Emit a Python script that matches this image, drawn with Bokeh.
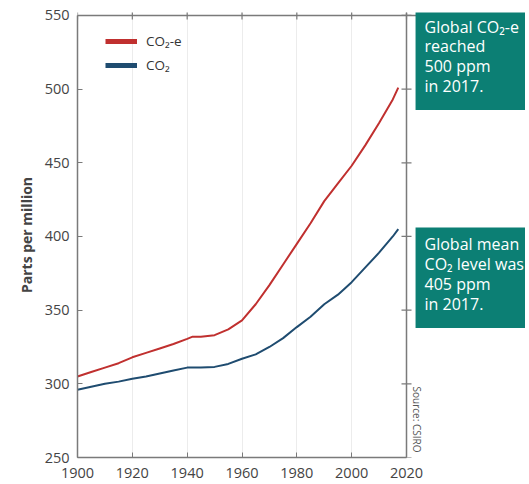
import math
from bokeh.plotting import figure
from bokeh.models import (Label, LinearAxis, Legend, LegendItem, FixedTicker, Range1d, Grid, Span)
from bokeh.embed import file_html
from bokeh.resources import INLINE

years_co2e = [1900, 1905, 1910, 1915, 1920, 1925, 1930, 1935, 1940, 1942, 1945, 1950, 1955,
              1960, 1965, 1970, 1975, 1980, 1985, 1990, 1995, 2000, 2005, 2010, 2015, 2017]
co2e = [305, 308, 311, 314, 318, 321, 324, 327, 330.5, 332, 332, 333, 337,
        343, 354, 367, 381, 395, 409, 424, 436, 448, 462, 477, 493, 501]

years_co2 = [1900, 1905, 1910, 1915, 1920, 1925, 1930, 1935, 1940, 1945, 1950, 1955, 1960,
             1965, 1970, 1975, 1980, 1985, 1990, 1995, 2000, 2005, 2010, 2015, 2017]
co2 = [296, 298, 300, 301.5, 303.5, 305, 307, 309, 311, 311, 311.5, 313.5, 317,
       320, 325, 331, 338.5, 345.5, 354, 360.5, 369, 379, 389, 400, 405]

x_ticks = [1900, 1920, 1940, 1960, 1980, 2000, 2020]
y_ticks = [250, 300, 350, 400, 450, 500, 550]

series_names = ["CO\u2082-e", "CO\u2082"]
box1_text = "Global CO\u2082-e\nreached\n500 ppm\nin 2017."
box2_text = "Global mean\nCO\u2082 level was\n405 ppm\nin 2017."
source_text = "Source: CSIRO"

RED = "#c0302f"
BLUE = "#1f4c70"
TEAL = "#0c7f74"
AXIS = "#7a7a7a"
FONT = "Open Sans"

W, H = 525, 480
LEFT, TOP, BOTTOM = 77, 12, 23
frame_w = W - LEFT
x_end = 1900 + frame_w * 120 / 329.0
y_end = 552

p = figure(width=W, height=H, output_backend="svg", toolbar_location=None,
           x_range=Range1d(1900, x_end), y_range=Range1d(250, y_end),
           min_border_left=LEFT, min_border_right=0, min_border_top=TOP, min_border_bottom=BOTTOM,
           x_axis_location=None, y_axis_location=None)
p.outline_line_color = None

ax_b = LinearAxis(ticker=FixedTicker(ticks=x_ticks), bounds=(1899.99, 2020.01))
ax_l = LinearAxis(ticker=FixedTicker(ticks=y_ticks), axis_label="Parts per million",
                  bounds=(249.99, 550.01))
for ax in (ax_b, ax_l):
    ax.axis_line_color = AXIS
    ax.axis_line_width = 1.5
    ax.major_tick_in = 5
    ax.major_tick_out = 0
    ax.major_tick_line_color = AXIS
    ax.minor_tick_line_color = None
    ax.major_label_text_font = FONT
    ax.major_label_text_font_size = "14.5px"
    ax.major_label_text_color = "#444444"
ax_b.major_label_standoff = 10
ax_l.major_label_standoff = 8
ax_l.axis_label_text_font = FONT
ax_l.axis_label_text_font_size = "14px"
ax_l.axis_label_text_font_style = "bold"
ax_l.axis_label_text_color = "#444444"
ax_l.axis_label_standoff = 6
p.add_layout(ax_b, "below")
p.add_layout(ax_l, "left")

p.xgrid.visible = False
p.ygrid.visible = False
p.add_layout(Grid(dimension=0, ticker=FixedTicker(ticks=x_ticks[1:-1]), grid_line_color="#ececec"))

# top and right sides of the chart box
top = y_ticks[-1]
right = x_ticks[-1]
p.add_layout(Span(location=top, dimension="width", line_color=AXIS, line_width=1.5))
p.add_layout(Span(location=right, dimension="height", line_color=AXIS, line_width=1.5))
p.scatter([right] * len(y_ticks), y_ticks, marker="dash", size=10,
          line_color=AXIS, line_width=1.2)
p.scatter(x_ticks, [top] * len(x_ticks), marker="dash", angle=math.pi / 2, size=8,
          line_color=AXIS, line_width=1.2)

p.line(years_co2e, co2e, line_color=RED, line_width=2)
p.line(years_co2, co2, line_color=BLUE, line_width=2)

# legend proxies (thicker swatches), not drawn in the plot
r1 = p.line(years_co2e, co2e, line_color=RED, line_width=5, visible=False)
r2 = p.line(years_co2, co2, line_color=BLUE, line_width=5, visible=False)
legend = Legend(items=[LegendItem(label=series_names[0], renderers=[r1]),
                       LegendItem(label=series_names[1], renderers=[r2])],
                location=(28, 382), background_fill_alpha=0, border_line_color=None,
                glyph_width=32, glyph_height=20, label_height=20, spacing=4,
                padding=8, margin=0, label_text_font=FONT, label_text_font_size="13.5px",
                label_text_color="#333333", label_standoff=9)
p.add_layout(legend)

for txt, ytop in ((box1_text, 554.0), (box2_text, 406.1)):
    p.add_layout(Label(x=2023.3, y=ytop, text=txt, text_align="left", text_baseline="top",
                       text_color="white", text_font=FONT, text_font_size="16px",
                       text_line_height=0.9, background_fill_color=TEAL,
                       padding=(9, 30, 6, 13)))

p.add_layout(Label(x=2024, y=275.8, text=source_text, angle=-math.pi / 2,
                   text_align="center", text_baseline="middle", text_color="#555555",
                   text_font=FONT, text_font_size="10px"))

open("out.html", "w").write(file_html(p, INLINE))
